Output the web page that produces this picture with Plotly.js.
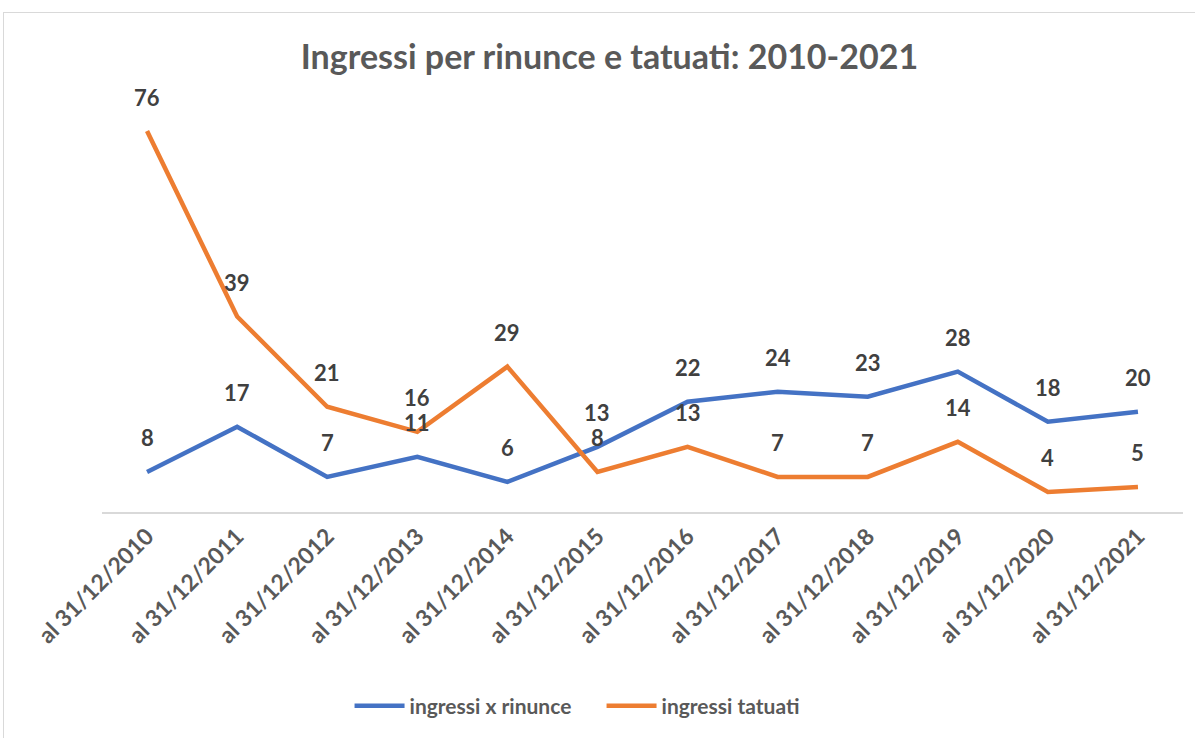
<!DOCTYPE html>
<html>
<head>
<meta charset="utf-8">
<script src="https://cdn.plot.ly/plotly-3.0.1.min.js"></script>
<style>
    html, body { margin: 0; padding: 0; overflow: hidden; background: #fff; }
    #frame {
        position: absolute; left: 3px; top: 12px; width: 1210px; height: 760px;
        border: 1.5px solid #d9d9d9; box-sizing: border-box;
    }
    #grafico { position: absolute; left: 0; top: 0; width: 1195px; height: 738px; }
</style>
</head>
<body>
<div id="frame"></div>
<div id="grafico"></div>
<script>
const config = {
    responsive: false,
    displayModeBar: false
}

// Categorie (date di riferimento)
const categorie = ['al 31/12/2010', 'al 31/12/2011', 'al 31/12/2012', 'al 31/12/2013',
    'al 31/12/2014', 'al 31/12/2015', 'al 31/12/2016', 'al 31/12/2017',
    'al 31/12/2018', 'al 31/12/2019', 'al 31/12/2020', 'al 31/12/2021'];

// Valori delle due serie
const rinunce = [8, 17, 7, 11, 6, 13, 22, 24, 23, 28, 18, 20];
const tatuati = [76, 39, 21, 16, 29, 8, 13, 7, 7, 14, 4, 5];

const font = 'Lato, "Open Sans", sans-serif';
const grigio = '#595959';

var linea_1 = {
    x: categorie,
    y: rinunce,
    name: 'ingressi x rinunce',
    mode: 'lines',
    type: 'scatter',
    line: { color: '#4472C4', width: 4.5 }
}

var linea_2 = {
    x: categorie,
    y: tatuati,
    name: 'ingressi tatuati',
    mode: 'lines',
    type: 'scatter',
    line: { color: '#ED7D31', width: 4.5 }
}

// Etichette dei valori sopra ai punti
var etichette = [];
[rinunce, tatuati].forEach(serie => {
    serie.forEach((v, i) => {
        etichette.push({
            x: categorie[i],
            y: v,
            text: '<b>' + v + '</b>',
            showarrow: false,
            yshift: 34,
            font: { family: font, size: 22, color: '#404040' }
        });
    });
});

const layout = {
    width: 1195,
    height: 738,
    margin: { l: 102, r: 12, t: 111, b: 226 },
    paper_bgcolor: 'rgba(0,0,0,0)',
    plot_bgcolor: 'rgba(0,0,0,0)',
    title: {
        text: '<b>Ingressi per rinunce e tatuati: 2010-2021</b>',
        font: { family: font, size: 34, color: grigio },
        x: 0.51,
        xanchor: 'center',
        y: 0.922,
        yanchor: 'middle'
    },
    font: { family: font },
    showlegend: true,
    legend: {
        orientation: 'h',
        x: 0.229,
        xanchor: 'left',
        y: -0.484,
        yanchor: 'middle',
        font: { family: font, size: 21, color: grigio, weight: 'bold' },
        itemwidth: 50,
        entrywidth: 187,
        entrywidthmode: 'pixels'
    },
    xaxis: {
        type: 'category',
        range: [-0.5, 11.5],
        showgrid: false,
        showline: true,
        linecolor: '#d9d9d9',
        linewidth: 1.5,
        ticks: '',
        tickangle: -45,
        tickfont: { family: font, size: 23, color: grigio, weight: 'bold' }
    },
    yaxis: {
        range: [0, 80],
        showgrid: false,
        zeroline: false,
        showline: false,
        showticklabels: false
    },
    annotations: etichette
};

Plotly.newPlot('grafico', [linea_1, linea_2], layout, config);
</script>
</body>
</html>
